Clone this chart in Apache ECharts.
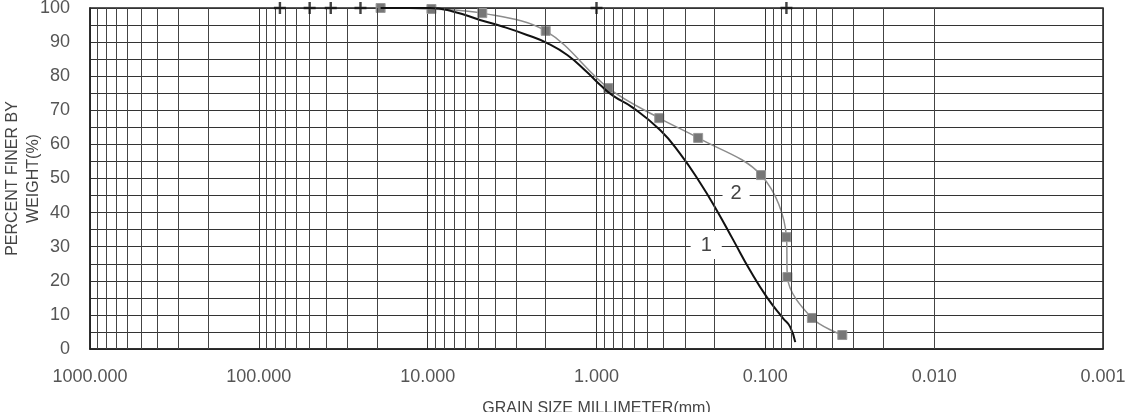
<!DOCTYPE html>
<html>
<head>
<meta charset="utf-8">
<script src="https://cdn.jsdelivr.net/npm/echarts@6/dist/echarts.min.js"></script>
<style>
  html, body { margin: 0; padding: 0; background: #fff; }
  #gradation { width: 1131px; height: 412px; }
</style>
</head>
<body>
<div id="gradation"></div>
<script>
// curve 1 (black line) - grain size (mm) / percent finer
var size1 = [19, 9.7, 7.1, 4.9, 3.57, 2.58, 1.96, 1.49, 1.14, 0.95, 0.8, 0.61, 0.42, 0.32, 0.243, 0.193, 0.155, 0.123, 0.098, 0.0785, 0.0713, 0.0665];
var finer1 = [100, 100, 99, 96.5, 94.5, 92.1, 89.7, 86.2, 81.2, 77.4, 74.3, 70.8, 64.2, 57.3, 48.7, 40.5, 32, 23, 15.2, 9, 6.5, 2];

// curve 2 (grey line with square marks)
var size2 = [19, 9.5, 4.75, 2.0, 0.85, 0.425, 0.25, 0.106, 0.075, 0.074, 0.053, 0.035];
var finer2 = [100, 99.7, 98.5, 93.3, 76.5, 67.7, 61.9, 51, 32.8, 21.1, 9.1, 4.1];

// sieve marks along the top edge
var sieveMarks = [75, 50, 37.5, 25, 1.0, 0.075];

// curve labels
var curveNames = ['1', '2'];
var curveLabelAt = [[0.224, 30.5], [0.149, 45.7]];

var yTicks = [0, 10, 20, 30, 40, 50, 60, 70, 80, 90, 100];

function pairs(xs, ys) {
	var out = [];
	for (var i = 0; i < xs.length; i++) {
		out.push([xs[i], ys[i]]);
	}
	return out;
}

// log paper minor lines 2..9 in every decade
var vLines = [];
for (var d = -3; d <= 2; d++) {
	for (var k = 2; k <= 9; k++) {
		vLines.push({ xAxis: k * Math.pow(10, d) });
	}
}

var FONT = 'Liberation Sans, Arial, sans-serif';
var myChart = echarts.init(document.getElementById('gradation'));

var option = {
	animation: false,
	backgroundColor: '#fff',
	grid: {
		left: 90, right: 28, top: 8, bottom: 63,
		outerBoundsMode: 'none',
		containLabel: false,
		show: true, borderColor: '#222', borderWidth: 1.5
	},
	xAxis: {
		type: 'log',
		logBase: 10,
		min: 0.001,
		max: 1000,
		splitNumber: 6,
		inverse: true,
		name: 'GRAIN SIZE MILLIMETER(mm)',
		nameLocation: 'middle',
		nameGap: 52,
		nameMoveOverlap: false,
		nameTextStyle: { fontFamily: FONT, fontSize: 16, color: '#444' },
		axisLine: { show: true, lineStyle: { color: '#222', width: 1.5 } },
		axisTick: { show: false },
		axisLabel: {
			fontFamily: FONT, fontSize: 18, color: '#555', margin: 19,
			formatter: function (v) { return Number(v).toFixed(3); }
		},
		splitLine: { show: true, lineStyle: { color: '#333', width: 1 } }
	},
	yAxis: {
		type: 'value',
		min: yTicks[0],
		max: yTicks[yTicks.length - 1],
		interval: 10,
		name: 'PERCENT FINER BY\nWEIGHT(%)',
		nameLocation: 'middle',
		nameRotate: 90,
		nameGap: 46,
		nameMoveOverlap: false,
		nameTextStyle: { fontFamily: FONT, fontSize: 16, lineHeight: 21, color: '#444' },
		axisLine: { show: true, lineStyle: { color: '#222', width: 1.5 } },
		axisTick: { show: false },
		axisLabel: { fontFamily: FONT, fontSize: 18, color: '#555', margin: 20 },
		splitLine: { show: true, lineStyle: { color: '#333', width: 1 } },
		minorTick: { show: false, splitNumber: 2 },
		minorSplitLine: { show: true, lineStyle: { color: '#333', width: 1 } }
	},
	series: [
		{
			// holder for the log-paper grid
			name: 'grid',
			type: 'line',
			z: 1,
			silent: true,
			data: [[1, 50]],
			symbol: 'none',
			lineStyle: { opacity: 0 },
			markLine: {
				silent: true,
				symbol: ['none', 'none'],
				label: { show: false },
				lineStyle: { color: '#444', width: 1, type: 'solid' },
				data: vLines
			}
		},
		{
			name: '1',
			type: 'line',
			z: 4,
			smooth: 0.5,
			symbol: 'none',
			lineStyle: { color: '#111', width: 2 },
			data: pairs(size1, finer1),
			markPoint: {
				symbol: 'rect',
				symbolSize: 0,
				data: [{ coord: curveLabelAt[0], value: curveNames[0] }],
				label: {
					show: true, position: 'inside', formatter: '{c}',
					fontFamily: FONT, fontSize: 20, color: '#444',
					backgroundColor: '#fff', padding: [5, 10, 3, 10]
				}
			}
		},
		{
			name: '2',
			type: 'line',
			z: 3,
			smooth: 0.35,
			symbol: 'rect',
			symbolSize: 9,
			itemStyle: { color: '#777', borderColor: '#999', borderWidth: 1 },
			lineStyle: { color: '#8c8c8c', width: 1.5 },
			data: pairs(size2, finer2),
			markPoint: {
				symbol: 'rect',
				symbolSize: 0,
				data: [{ coord: curveLabelAt[1], value: curveNames[1] }],
				label: {
					show: true, position: 'inside', formatter: '{c}',
					fontFamily: FONT, fontSize: 20, color: '#444',
					backgroundColor: '#fff', padding: [5, 8, 3, 8]
				}
			}
		},
		{
			name: 'sieve',
			type: 'scatter',
			z: 5,
			clip: false,
			symbol: 'path://M4,0 L6,0 L6,4 L10,4 L10,6 L6,6 L6,10 L4,10 L4,6 L0,6 L0,4 L4,4 Z',
			symbolSize: 12,
			itemStyle: { color: '#111' },
			data: sieveMarks.map(function (s) { return [s, 100]; })
		}
	]
};
myChart.setOption(option);
</script>
</body>
</html>
